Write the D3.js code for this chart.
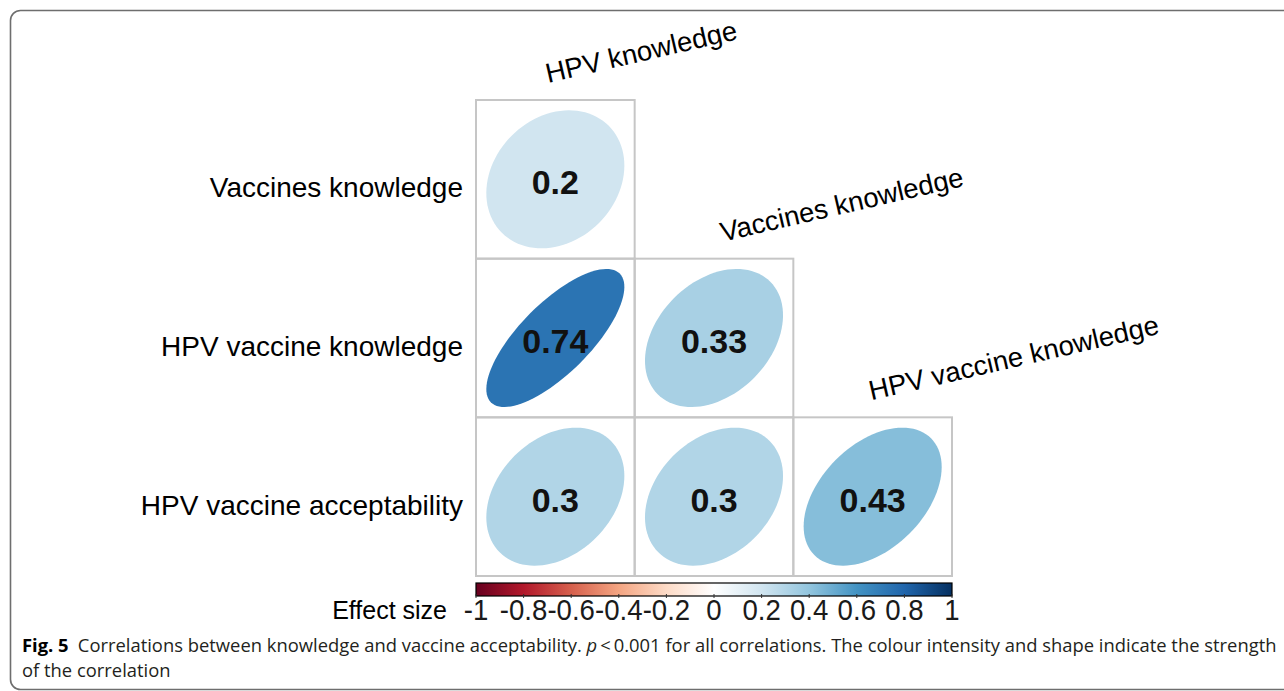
<!DOCTYPE html>
<html lang="en">
<head>
    <meta charset="UTF-8">
    <title>Fig. 5</title>
    <style>
        body { margin: 0; background: #fff; }
        svg { display: block; }
    </style>
</head>
<body>
<script src="https://cdnjs.cloudflare.com/ajax/libs/d3/7.8.5/d3.min.js"></script>
<script>
    // data
    let rowLabels = ["Vaccines knowledge", "HPV vaccine knowledge", "HPV vaccine acceptability"];
    let colLabels = ["HPV knowledge", "Vaccines knowledge", "HPV vaccine knowledge"];
    let corrValues = [
        [0.2],
        [0.74, 0.33],
        [0.3, 0.3, 0.43]
    ];
    let legendTicks = [-1, -0.8, -0.6, -0.4, -0.2, 0, 0.2, 0.4, 0.6, 0.8, 1];
    let legendTitle = "Effect size";

    let width = 1284;
    let height = 691;
    let svg = d3.select("body").append("svg")
        .attr("width", width)
        .attr("height", height);

    // figure frame
    svg.append("rect")
        .attr("x", 10.5)
        .attr("y", 10.5)
        .attr("width", 1300)
        .attr("height", 679)
        .attr("rx", 10)
        .attr("fill", "none")
        .attr("stroke", "#6e6e6e")
        .attr("stroke-width", 1.6);

    // corrplot RdBu palette
    let palette = ["#67001F", "#B2182B", "#D6604D", "#F4A582", "#FDDBC7", "#FFFFFF",
        "#D1E5F0", "#92C5DE", "#4393C3", "#2166AC", "#053061"];
    let color = d3.scaleLinear()
        .domain(d3.range(palette.length).map(i => -1 + i * 2 / (palette.length - 1)))
        .range(palette);

    let x = d3.scaleBand().domain(d3.range(colLabels.length)).range([476, 952]);
    let y = d3.scaleBand().domain(d3.range(rowLabels.length)).range([100, 576]);
    let cw = x.bandwidth();
    let ch = y.bandwidth();

    let cells = [];
    corrValues.forEach((row, i) => {
        row.forEach((v, j) => cells.push({row: i, col: j, value: v}));
    });

    // ellipse outline in unit coords (as corrplot does), scaled into the cell
    let ex = d3.scaleLinear().domain([-0.5, 0.5]).range([-cw * 0.435, cw * 0.435]);
    let ey = d3.scaleLinear().domain([-0.5, 0.5]).range([ch * 0.435, -ch * 0.435]);
    function ellipsePoints(r) {
        let a = Math.acos(r) / 2;
        return d3.range(100).map(i => {
            let k = i / 100 * 2 * Math.PI;
            return [ex(Math.cos(k + a) / 2), ey(Math.cos(k - a) / 2)];
        });
    }
    let ellLine = d3.line().curve(d3.curveLinearClosed);

    let cellG = svg.selectAll("g.cell")
        .data(cells)
        .enter()
        .append("g")
        .attr("class", "cell")
        .attr("transform", d => `translate(${x(d.col) + cw / 2},${y(d.row) + ch / 2})`);

    cellG.append("path")
        .attr("d", d => ellLine(ellipsePoints(d.value)))
        .attr("fill", d => color(d.value));

    cellG.append("text")
        .attr("text-anchor", "middle")
        .attr("y", 15)
        .attr("font-family", "'Liberation Sans', Arial, sans-serif")
        .attr("font-weight", "bold")
        .attr("font-size", 34)
        .attr("fill", "#111")
        .text(d => d.value);

    // grid
    svg.selectAll("rect.grid")
        .data(cells)
        .enter()
        .append("rect")
        .attr("class", "grid")
        .attr("x", d => x(d.col))
        .attr("y", d => y(d.row))
        .attr("width", cw)
        .attr("height", ch)
        .attr("fill", "none")
        .attr("stroke", "#c6c6c6")
        .attr("stroke-width", 2);

    // row labels
    svg.selectAll("text.rowlab")
        .data(rowLabels)
        .enter()
        .append("text")
        .attr("class", "rowlab")
        .attr("x", 463)
        .attr("y", (d, i) => y(i) + ch / 2 + 18)
        .attr("text-anchor", "end")
        .attr("font-family", "'Liberation Sans', Arial, sans-serif")
        .attr("font-size", 28)
        .attr("fill", "#000")
        .text(d => d);

    // column labels, rotated above the diagonal cells
    let colLabelDx = [72, 88, 78];
    svg.selectAll("text.collab")
        .data(colLabels)
        .enter()
        .append("text")
        .attr("class", "collab")
        .attr("transform", (d, i) => `translate(${x(i) + colLabelDx[i]},${y(i) - 17}) rotate(-13)`)
        .attr("font-family", "'Liberation Sans', Arial, sans-serif")
        .attr("font-size", 27.5)
        .attr("fill", "#000")
        .text(d => d);

    // colour legend
    let lx = d3.scaleLinear().domain([-1, 1]).range([476, 952]);
    let barTop = 583, barH = 13;
    let grad = svg.append("defs").append("linearGradient")
        .attr("id", "legendGrad")
        .attr("x1", "0%").attr("x2", "100%");
    grad.selectAll("stop")
        .data(palette)
        .enter()
        .append("stop")
        .attr("offset", (d, i) => (i / (palette.length - 1) * 100) + "%")
        .attr("stop-color", d => d);

    svg.append("rect")
        .attr("x", lx(-1))
        .attr("y", barTop)
        .attr("width", lx(1) - lx(-1))
        .attr("height", barH)
        .attr("fill", "url(#legendGrad)")
        .attr("stroke", "#000")
        .attr("stroke-width", 1.2);

    svg.selectAll("line.ltick")
        .data(legendTicks)
        .enter()
        .append("line")
        .attr("class", "ltick")
        .attr("x1", d => lx(d))
        .attr("x2", d => lx(d))
        .attr("y1", barTop + barH - 2)
        .attr("y2", barTop + barH + 2)
        .attr("stroke", "#333")
        .attr("stroke-width", 1);

    svg.selectAll("text.ltext")
        .data(legendTicks)
        .enter()
        .append("text")
        .attr("class", "ltext")
        .attr("transform", d => `translate(${lx(d)},620) scale(0.92,1)`)
        .attr("text-anchor", "middle")
        .attr("font-family", "'Liberation Sans', Arial, sans-serif")
        .attr("font-size", 30)
        .attr("fill", "#1a1a1a")
        .text(d => d);

    svg.append("text")
        .attr("x", 447)
        .attr("y", 619)
        .attr("text-anchor", "end")
        .attr("font-family", "'Liberation Sans', Arial, sans-serif")
        .attr("font-size", 25)
        .attr("fill", "#000")
        .text(legendTitle);

    // caption
    let capFont = "'Open Sans', 'Noto Sans', sans-serif";
    let cap1 = svg.append("text")
        .attr("font-family", capFont)
        .attr("font-size", 18.5)
        .attr("fill", "#231f20");
    cap1.append("tspan").attr("font-weight", "bold").attr("fill", "#000").text("Fig. 5");
    cap1.append("tspan").text("\u2002Correlations between knowledge and vaccine acceptability. ");
    cap1.append("tspan").attr("font-style", "italic").text("p");
    cap1.append("tspan").text("\u2009<\u20090.001 for all correlations. The colour intensity and shape indicate the strength");
    let capLen = cap1.node().getComputedTextLength();
    let sx = (1277 - 22) / capLen;
    cap1.attr("transform", `translate(22,652) scale(${sx},1)`);

    svg.append("text")
        .attr("transform", `translate(22,677) scale(${sx},1)`)
        .attr("font-family", capFont)
        .attr("font-size", 18.5)
        .attr("fill", "#231f20")
        .text("of the correlation");
</script>
</body>
</html>
